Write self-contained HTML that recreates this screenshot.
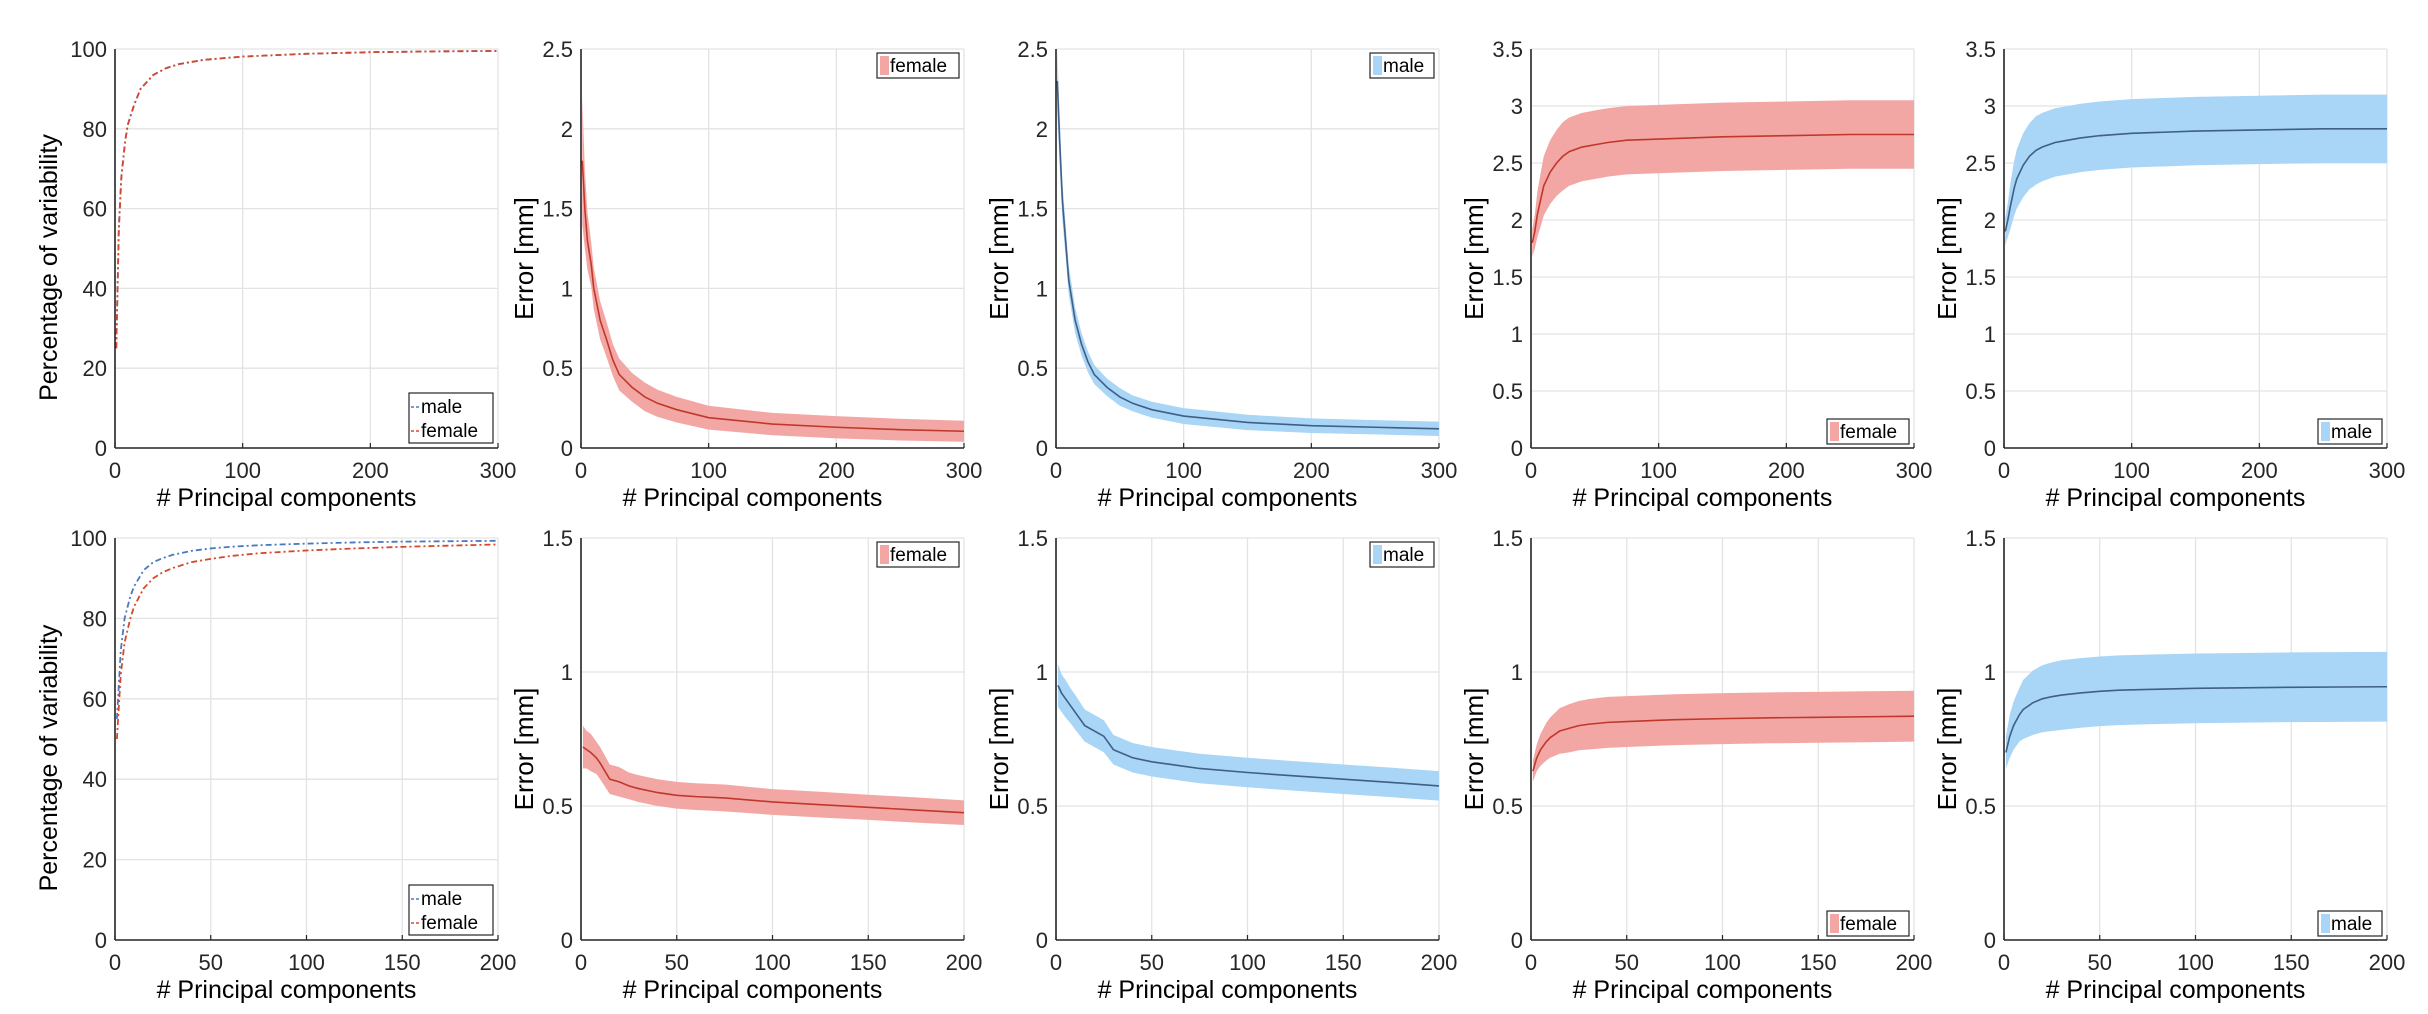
<!DOCTYPE html>
<html><head><meta charset="utf-8">
<style>
html,body{margin:0;padding:0;background:#fff;}
svg{display:block;font-family:"Liberation Sans",Arial,sans-serif;}
</style></head>
<body>
<svg id="fig" width="2428" height="1014" viewBox="0 0 2428 1014" xmlns="http://www.w3.org/2000/svg"></svg>
<script>
// ---- data (key points) ----
const pcX300 = [1,3,5,8,10,15,20,30,40,50,70,100,150,200,250,300];
const varMaleR1 =   [25,55,68,77,81,86,90,93.5,95.2,96.2,97.3,98.1,98.8,99.2,99.4,99.5];
const varFemaleR1 = [25,55,68,77,81,86,90,93.5,95.2,96.2,97.3,98.1,98.8,99.2,99.4,99.5];

const errX300 = [1,3,5,8,10,15,20,25,30,40,50,60,75,100,150,200,250,300];
const femDecMean = [1.8,1.5,1.3,1.15,1.0,0.8,0.68,0.55,0.46,0.38,0.32,0.28,0.24,0.19,0.15,0.13,0.115,0.105];
const femDecSd =   [0.4,0.25,0.18,0.14,0.13,0.12,0.11,0.1,0.1,0.09,0.09,0.085,0.08,0.075,0.07,0.07,0.068,0.066];
const maleDecMean = [2.3,1.9,1.55,1.25,1.05,0.8,0.65,0.54,0.46,0.38,0.32,0.28,0.24,0.2,0.16,0.14,0.13,0.12];
const maleDecSd =   [0.2,0.15,0.12,0.1,0.09,0.08,0.07,0.065,0.06,0.055,0.055,0.05,0.05,0.05,0.048,0.046,0.045,0.045];
const femIncMean = [1.8,1.9,2.05,2.2,2.3,2.42,2.5,2.56,2.6,2.64,2.66,2.68,2.7,2.71,2.73,2.74,2.75,2.75];
const femIncSd =   [0.12,0.15,0.2,0.24,0.26,0.28,0.29,0.3,0.3,0.3,0.3,0.3,0.3,0.3,0.3,0.3,0.3,0.3];
const maleIncMean = [1.9,2.0,2.12,2.28,2.36,2.48,2.56,2.61,2.64,2.68,2.7,2.72,2.74,2.76,2.78,2.79,2.8,2.8];
const maleIncSd =   [0.12,0.15,0.2,0.24,0.26,0.28,0.29,0.3,0.3,0.3,0.3,0.3,0.3,0.3,0.3,0.3,0.3,0.3];

const pcX200 = [1,3,5,8,10,15,20,25,30,40,50,60,75,100,125,150,175,200];
const varMaleR2 =   [55,72,80,85.5,88,92,94,95,95.8,96.8,97.4,97.8,98.2,98.6,98.9,99.1,99.2,99.3];
const varFemaleR2 = [50,66,74,80,83,87.5,90,91.5,92.5,94,94.8,95.5,96.2,96.9,97.4,97.8,98.1,98.4];
const femDec2Mean = [0.72,0.71,0.7,0.68,0.66,0.6,0.59,0.575,0.565,0.55,0.54,0.535,0.53,0.515,0.505,0.495,0.485,0.475];
const femDec2Sd =   [0.08,0.07,0.07,0.06,0.06,0.055,0.055,0.05,0.05,0.05,0.05,0.05,0.05,0.048,0.048,0.047,0.047,0.046];
const maleDec2Mean = [0.95,0.92,0.9,0.87,0.85,0.8,0.78,0.76,0.71,0.68,0.665,0.655,0.64,0.625,0.612,0.6,0.588,0.575];
const maleDec2Sd =   [0.08,0.07,0.07,0.065,0.065,0.06,0.06,0.06,0.055,0.055,0.055,0.055,0.055,0.055,0.055,0.055,0.055,0.055];
const femInc2Mean = [0.63,0.68,0.71,0.74,0.755,0.78,0.79,0.8,0.805,0.812,0.815,0.818,0.822,0.826,0.829,0.831,0.833,0.835];
const femInc2Sd =   [0.04,0.05,0.06,0.07,0.075,0.085,0.09,0.092,0.094,0.095,0.095,0.095,0.095,0.095,0.095,0.095,0.095,0.095];
const maleInc2Mean = [0.7,0.76,0.8,0.84,0.86,0.885,0.9,0.908,0.914,0.922,0.928,0.932,0.935,0.939,0.941,0.943,0.944,0.945];
const maleInc2Sd =   [0.06,0.08,0.09,0.1,0.11,0.12,0.125,0.128,0.13,0.13,0.13,0.13,0.13,0.13,0.13,0.13,0.13,0.13];

const xTicks300 = [0,100,200,300];
const xTicks200 = [0,50,100,150,200];
const yTicksPct = [0,20,40,60,80,100];
const yTicksErr25 = [0,0.5,1,1.5,2,2.5];
const yTicksErr35 = [0,0.5,1,1.5,2,2.5,3,3.5];
const yTicksErr15 = [0,0.5,1,1.5];

const NS = "http://www.w3.org/2000/svg";
const svg = document.getElementById('fig');
function mk(tag, attrs, parent){
  const e = document.createElementNS(NS, tag);
  for (const k in attrs) e.setAttribute(k, attrs[k]);
  (parent||svg).appendChild(e);
  return e;
}
const RED_BAND="#f3a7a5", RED_LINE="#c0382a", BLUE_BAND="#a9d5f6", BLUE_LINE="#3f5f86";
const LINE_MALE="#4a78c2", LINE_FEMALE="#d8472b";

function axes(name, left, top, w, h, xmax, ymax, xt, yt, ylabel){
  const g = mk('g', {});
  
  
  const sx = v => left + v / xmax * w;
  const sy = v => top + h - v / ymax * h;
  xt.forEach(t => { const l = mk('line', {x1:sx(t), x2:sx(t), y1:top, y2:top+h, stroke:'#e3e3e3', 'stroke-width':1.3}, g);
      });
  yt.forEach(t => { const l = mk('line', {x1:left, x2:left+w, y1:sy(t), y2:sy(t), stroke:'#e3e3e3', 'stroke-width':1.3}, g);
      });
  xt.forEach(t => { const tx = mk('text', {x:sx(t), y:top+h+30, 'font-size':22, 'text-anchor':'middle', fill:'#262626'}, g);
    tx.textContent = t;
     
    mk('line', {x1:sx(t), x2:sx(t), y1:top+h, y2:top+h-5, stroke:'#262626', 'stroke-width':1.2}, g); });
  yt.forEach(t => { const ty = mk('text', {x:left-8, y:sy(t)+8, 'font-size':22, 'text-anchor':'end', fill:'#262626'}, g);
    ty.textContent = t;
      });
  const xl = mk('text', {x:left+w/2-20, y:top+h+58, 'font-size':25, 'text-anchor':'middle', fill:'#000'}, g);
  xl.textContent = '# Principal components';
   
  const isPct = ylabel.startsWith('Perc');
  const lx = isPct ? left-58 : left-48;
  const cy = top + h/2 + (isPct ? 19 : 10);
  const yl = mk('text', {x:lx, y:cy, 'font-size': isPct ? 25 : 26, 'text-anchor':'middle', fill:'#000', transform:`rotate(-90 ${lx} ${cy})`}, g);
  yl.textContent = ylabel;
   
  return {g, sx, sy, left, top, w, h};
}
function finishAxes(a){
  mk('line', {x1:a.left, x2:a.left, y1:a.top, y2:a.top+a.h, stroke:'#262626', 'stroke-width':1.6}, a.g);
  mk('line', {x1:a.left, x2:a.left+a.w, y1:a.top+a.h, y2:a.top+a.h, stroke:'#262626', 'stroke-width':1.6}, a.g);
}
function band(a, xs, mean, sd, bandColor, lineColor){
  const up = xs.map((x,i)=>`${a.sx(x)},${a.sy(mean[i]+sd[i])}`);
  const lo = xs.map((x,i)=>`${a.sx(x)},${a.sy(Math.max(0,mean[i]-sd[i]))}`).reverse();
  const p = mk('polygon', {points: up.concat(lo).join(' '), fill:bandColor, stroke:'none'}, a.g);
   
  const l = mk('polyline', {points: xs.map((x,i)=>`${a.sx(x)},${a.sy(mean[i])}`).join(' '), fill:'none', stroke:lineColor, 'stroke-width':1.6}, a.g);
   
}
function dline(a, xs, ys, color, nm){
  const l = mk('polyline', {points: xs.map((x,i)=>`${a.sx(x)},${a.sy(ys[i])}`).join(' '), fill:'none', stroke:color, 'stroke-width':1.8, 'stroke-dasharray':'6 3 2 3'}, a.g);
   
}
function legendPatch(a, label, color, atTop){
  const w = label==='female' ? 82 : 64, h = 25;
  const x = a.left + a.w - 5 - w, y = atTop ? a.top + 4 : a.top + a.h - 4 - h;
  const g = mk('g', {}, a.g);
   
  mk('rect', {x, y, width:w, height:h, fill:'#fff', stroke:'#262626', 'stroke-width':1.2}, g);
  mk('rect', {x:x+3, y:y+3, width:9, height:h-6, fill:color}, g);
  const t = mk('text', {x:x+13, y:y+19, 'font-size':19, fill:'#000'}, g);
  t.textContent = label;
   
}
function legendLines(a){
  const w = 84, h = 50;
  const x = a.left + a.w - 5 - w, y = a.top + a.h - 5 - h;
  const g = mk('g', {}, a.g);
   
  mk('rect', {x, y, width:w, height:h, fill:'#fff', stroke:'#262626', 'stroke-width':1.2}, g);
  [['male',LINE_MALE],['female',LINE_FEMALE]].forEach((e,i)=>{
    mk('line', {x1:x+2, x2:x+10, y1:y+14+i*24, y2:y+14+i*24, stroke:e[1], 'stroke-width':1.5, 'stroke-dasharray':'3 2'}, g);
    const t = mk('text', {x:x+12, y:y+20+i*24, 'font-size':19, fill:'#000'}, g);
    t.textContent = e[0];
     
  });
}

const lefts = [115, 581, 1056, 1531, 2004];
const W = 383;
const R1T = 49, R1H = 399, R2T = 538, R2H = 402;

// Row 1
let a = axes('variability-chart-300', lefts[0], R1T, W, R1H, 300, 100, xTicks300, yTicksPct, 'Percentage of variability');
dline(a, pcX300, varMaleR1, LINE_MALE, 'male-line'); dline(a, pcX300, varFemaleR1, LINE_FEMALE, 'female-line');
finishAxes(a); legendLines(a);

a = axes('female-error-dec-300', lefts[1], R1T, W, R1H, 300, 2.5, xTicks300, yTicksErr25, 'Error [mm]');
band(a, errX300, femDecMean, femDecSd, RED_BAND, RED_LINE); finishAxes(a); legendPatch(a,'female',RED_BAND,true);

a = axes('male-error-dec-300', lefts[2], R1T, W, R1H, 300, 2.5, xTicks300, yTicksErr25, 'Error [mm]');
band(a, errX300, maleDecMean, maleDecSd, BLUE_BAND, BLUE_LINE); finishAxes(a); legendPatch(a,'male',BLUE_BAND,true);

a = axes('female-error-inc-300', lefts[3], R1T, W, R1H, 300, 3.5, xTicks300, yTicksErr35, 'Error [mm]');
band(a, errX300, femIncMean, femIncSd, RED_BAND, RED_LINE); finishAxes(a); legendPatch(a,'female',RED_BAND,false);

a = axes('male-error-inc-300', lefts[4], R1T, W, R1H, 300, 3.5, xTicks300, yTicksErr35, 'Error [mm]');
band(a, errX300, maleIncMean, maleIncSd, BLUE_BAND, BLUE_LINE); finishAxes(a); legendPatch(a,'male',BLUE_BAND,false);

// Row 2
a = axes('variability-chart-200', lefts[0], R2T, W, R2H, 200, 100, xTicks200, yTicksPct, 'Percentage of variability');
dline(a, pcX200, varMaleR2, LINE_MALE, 'male-line'); dline(a, pcX200, varFemaleR2, LINE_FEMALE, 'female-line');
finishAxes(a); legendLines(a);

a = axes('female-error-dec-200', lefts[1], R2T, W, R2H, 200, 1.5, xTicks200, yTicksErr15, 'Error [mm]');
band(a, pcX200, femDec2Mean, femDec2Sd, RED_BAND, RED_LINE); finishAxes(a); legendPatch(a,'female',RED_BAND,true);

a = axes('male-error-dec-200', lefts[2], R2T, W, R2H, 200, 1.5, xTicks200, yTicksErr15, 'Error [mm]');
band(a, pcX200, maleDec2Mean, maleDec2Sd, BLUE_BAND, BLUE_LINE); finishAxes(a); legendPatch(a,'male',BLUE_BAND,true);

a = axes('female-error-inc-200', lefts[3], R2T, W, R2H, 200, 1.5, xTicks200, yTicksErr15, 'Error [mm]');
band(a, pcX200, femInc2Mean, femInc2Sd, RED_BAND, RED_LINE); finishAxes(a); legendPatch(a,'female',RED_BAND,false);

a = axes('male-error-inc-200', lefts[4], R2T, W, R2H, 200, 1.5, xTicks200, yTicksErr15, 'Error [mm]');
band(a, pcX200, maleInc2Mean, maleInc2Sd, BLUE_BAND, BLUE_LINE); finishAxes(a); legendPatch(a,'male',BLUE_BAND,false);
</script>
</body></html>
